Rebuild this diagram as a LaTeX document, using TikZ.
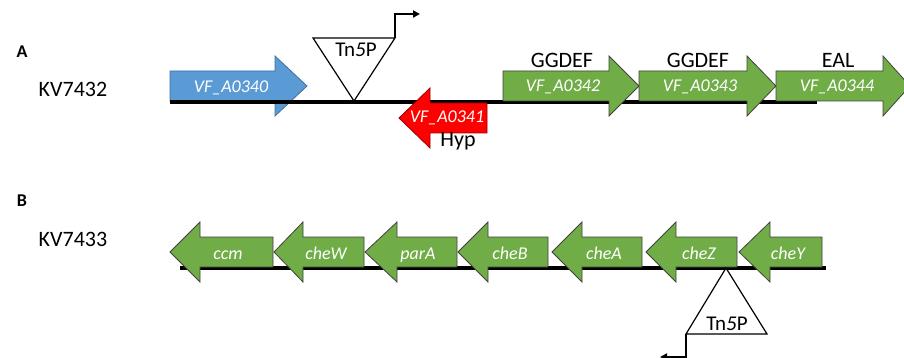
\documentclass[tikz,border=0pt]{standalone}
\usepackage{fontspec}
\setmainfont{Carlito}
\usetikzlibrary{arrows.meta}
\definecolor{geneGreen}{HTML}{70AD47}
\definecolor{geneBlue}{HTML}{5B9BD5}
\definecolor{geneBlueEdge}{HTML}{41719C}
\definecolor{geneRed}{HTML}{FF0000}
\newcommand\fwdGene[5]{% style, tail x, head base x, tip x, centre y
  \draw[#1] (#2,#5-15) -- (#3,#5-15) -- (#3,#5-30) -- (#4,#5) -- (#3,#5+30) -- (#3,#5+15) -- (#2,#5+15) -- cycle;}
\newcommand\revGene[5]{% style, tip x, head base x, tail x, centre y
  \draw[#1] (#4,#5-15) -- (#3,#5-15) -- (#3,#5-30) -- (#2,#5) -- (#3,#5+30) -- (#3,#5+15) -- (#4,#5+15) -- cycle;}
\begin{document}
\begin{tikzpicture}[x=1pt,y=-1pt,
  panel/.style={font=\fontsize{18}{20}\selectfont\bfseries, anchor=base, inner sep=0pt},
  strain/.style={font=\fontsize{22}{24}\selectfont, anchor=base, inner sep=0pt},
  domainlabel/.style={font=\fontsize{22}{24}\selectfont, anchor=base, inner sep=0pt},
  genelabel/.style={font=\fontsize{18}{20}\selectfont\itshape, text=white, anchor=base, inner sep=0pt},
  tnlabel/.style={font=\fontsize{21}{23}\selectfont, anchor=base, inner sep=0pt},
  backbone/.style={line width=3.5pt, black},
  greengene/.style={fill=geneGreen, draw=black!75, line width=0.8pt},
  bluegene/.style={fill=geneBlue, draw=geneBlueEdge, line width=0.8pt},
  redgene/.style={fill=geneRed, draw=red!60!black, line width=0.8pt},
  tnbox/.style={fill=white, draw=black, line width=1.2pt, line join=miter},
  promoter/.style={line width=2pt, -{Triangle[length=7pt,width=7pt]}}]
\clip (0,0) rectangle (904,358);

% ---------- Panel A ----------
\node[panel] (pA) at (22,58) {A};
\node[strain] (sA) at (73,97) {KV7432};

\fwdGene{bluegene}{170}{275}{307}{86}
\coordinate (lA1) at (170,102);
\coordinate (lA2) at (817,102);
\draw[backbone] (lA1) -- (lA2);
\revGene{redgene}{399}{430}{487}{118}
\fwdGene{greengene}{503}{609}{639}{86}
\fwdGene{greengene}{639}{747}{776}{86}
\fwdGene{greengene}{776}{883}{910}{86}

\node[genelabel] (g340) at (231,93) {VF\_A0340};
\node[genelabel] (g341) at (447,123) {VF\_A0341};
\node[genelabel] (g342) at (563,92) {VF\_A0342};
\node[genelabel] (g343) at (700,92) {VF\_A0343};
\node[genelabel] (g344) at (837,92) {VF\_A0344};

\node[domainlabel] (d342) at (562,68) {GGDEF};
\node[domainlabel] (d343) at (698,68) {GGDEF};
\node[domainlabel] (d344) at (838,68) {EAL};
\node[domainlabel] (hyp) at (458,147) {Hyp};

\coordinate (tA1) at (313,38);
\coordinate (tA2) at (395,38);
\coordinate (tA3) at (354,101);
\draw[tnbox] (tA1) -- (tA2) -- (tA3) -- cycle;
\node[tnlabel] (tnA) at (356,57) {Tn\textit{5}P};
\coordinate (pA1) at (420,14);
\draw[promoter] (tA2) |- (pA1);

% ---------- Panel B ----------
\node[panel] (pB) at (22,206) {B};
\node[strain] (sB) at (73,246) {KV7433};

\coordinate (lB1) at (180,268);
\coordinate (lB2) at (826,268);
\draw[backbone] (lB1) -- (lB2);
\revGene{greengene}{170}{200}{273}{252}
\revGene{greengene}{274}{303}{364}{252}
\revGene{greengene}{365}{397}{457}{252}
\revGene{greengene}{458}{488}{548}{252}
\revGene{greengene}{552}{582}{642}{252}
\revGene{greengene}{646}{676}{737}{252}
\revGene{greengene}{739}{770}{822}{252}

\node[genelabel] (ccm) at (228,259) {ccm};
\node[genelabel] (cheW) at (326,259) {cheW};
\node[genelabel] (parA) at (418,259) {parA};
\node[genelabel] (cheB) at (510,259) {cheB};
\node[genelabel] (cheA) at (604,259) {cheA};
\node[genelabel] (cheZ) at (699,259) {cheZ};
\node[genelabel] (cheY) at (788,259) {cheY};

\coordinate (tB1) at (726,268);
\coordinate (tB2) at (767,334);
\coordinate (tB3) at (686,334);
\draw[tnbox] (tB1) -- (tB2) -- (tB3) -- cycle;
\node[tnlabel] (tnB) at (727,330) {Tn\textit{5}P};
\coordinate (pB1) at (660,357);
\draw[promoter] (tB3) |- (pB1);
\end{tikzpicture}
\end{document}
